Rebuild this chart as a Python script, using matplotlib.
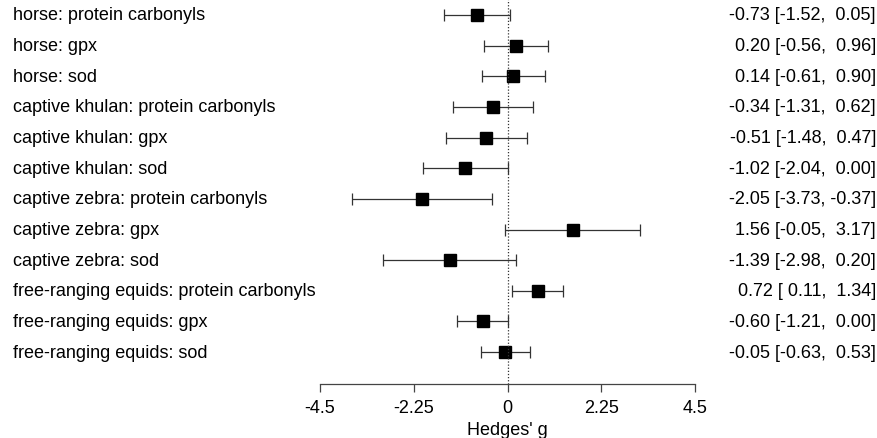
import numpy as np
import matplotlib
matplotlib.use("Agg")
import matplotlib.pyplot as plt
import matplotlib.transforms as mtransforms

plt.rcParams['font.family'] = ['Liberation Sans', 'DejaVu Sans']

labels = ["horse: protein carbonyls", "horse: gpx", "horse: sod",
          "captive khulan: protein carbonyls", "captive khulan: gpx", "captive khulan: sod",
          "captive zebra: protein carbonyls", "captive zebra: gpx", "captive zebra: sod",
          "free-ranging equids: protein carbonyls", "free-ranging equids: gpx",
          "free-ranging equids: sod"]
est = [-0.73, 0.20, 0.14, -0.34, -0.51, -1.02, -2.05, 1.56, -1.39, 0.72, -0.60, -0.05]
ci_lo = [-1.52, -0.56, -0.61, -1.31, -1.48, -2.04, -3.73, -0.05, -2.98, 0.11, -1.21, -0.63]
ci_hi = [0.05, 0.96, 0.90, 0.62, 0.47, 0.00, -0.37, 3.17, 0.20, 1.34, 0.00, 0.53]
xticks = [-4.5, -2.25, 0, 2.25, 4.5]
xticklabels = ["-4.5", "-2.25", "0", "2.25", "4.5"]

W, H = 878, 439
fs = 13
fig = plt.figure(figsize=(W / 100, H / 100), dpi=100)
# axes spans the x range -4.5..4.5 (pixels 320..695), bottom spine at y=385px
ax = fig.add_axes([320 / W, (H - 385) / H, 375 / W, 385 / H])

rows = np.arange(len(labels))
est = np.array(est)
lo = np.array(ci_lo)
hi = np.array(ci_hi)

ax.errorbar(est, rows, xerr=[est - lo, hi - est], fmt='none', ecolor='#333333',
            elinewidth=0.9, capsize=4, capthick=0.9)
ax.plot(est, rows, 's', color='black', markersize=8.5)
ax.axvline(0, color='#333333', linestyle=(0, (1, 1.5)), linewidth=0.9)

ax.set_xlim(-4.5, 4.5)
ax.set_ylim(12.04, -0.52)
for s in ['top', 'right', 'left']:
    ax.spines[s].set_visible(False)
ax.spines['bottom'].set_bounds(-4.5, 4.5)
ax.spines['bottom'].set_color('#444444')
ax.spines['bottom'].set_linewidth(0.9)
ax.set_yticks([])
ax.set_xticks(xticks)
ax.set_xticklabels(xticklabels)
ax.tick_params(axis='x', direction='out', length=5.5, width=0.9, color='#444444',
               labelsize=fs, pad=5)
ax.set_xlabel("Hedges' g", fontsize=fs, labelpad=4)

trans_l = mtransforms.blended_transform_factory(fig.transFigure, ax.transData)
for r, lab in zip(rows, labels):
    fig.text(13 / W, r, lab, transform=trans_l, ha='left', va='center', fontsize=fs)
    txt = f"{est[r]:.2f} [{lo[r]:5.2f}, {hi[r]:5.2f}]"
    fig.text(876 / W, r, txt, transform=trans_l, ha='right', va='center', fontsize=fs)

fig.savefig("out.png", dpi=100)
